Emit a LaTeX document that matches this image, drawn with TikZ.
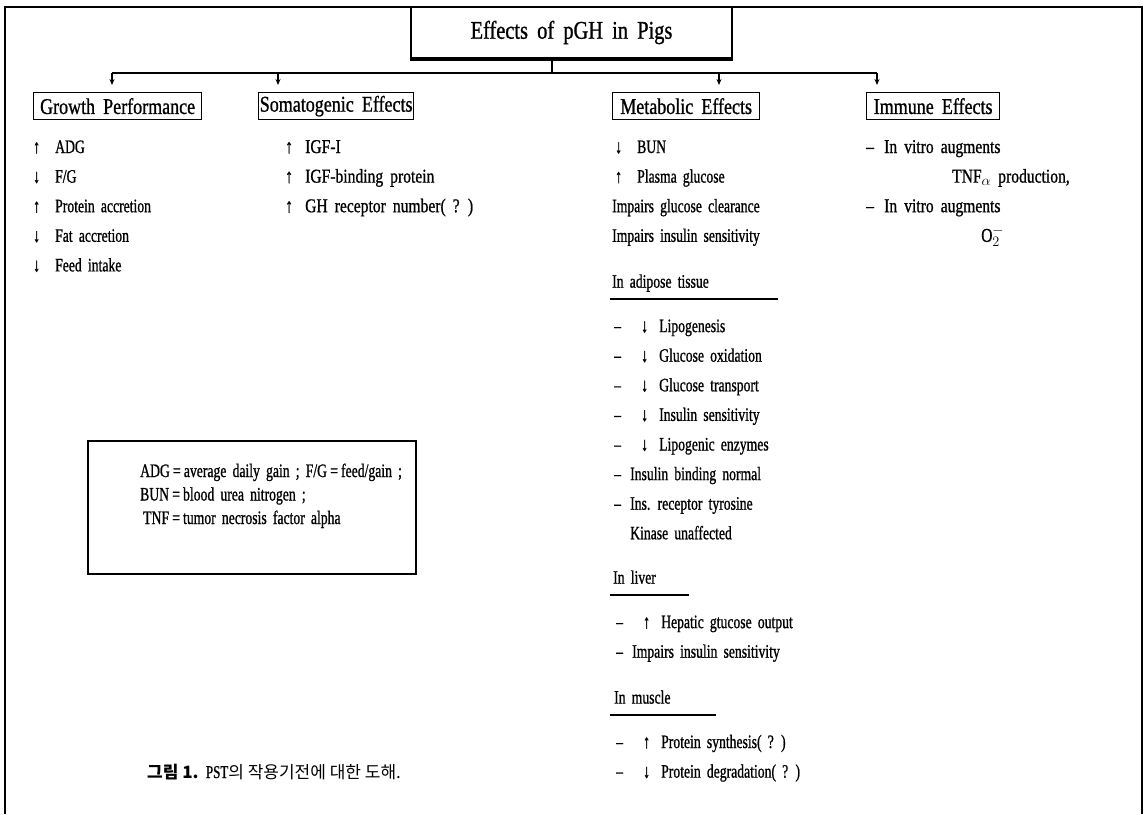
\documentclass[tikz,border=0pt]{standalone}
\usepackage{fontspec}
\setmainfont{Liberation Serif}[FakeStretch=0.72,WordSpace=1.8,FakeBold=0.9]
\newfontfamily\hfont{Liberation Serif}[FakeStretch=0.8,WordSpace=1.8,FakeBold=0.9]
\newfontfamily\kr{Noto Sans CJK KR}
\usetikzlibrary{arrows.meta}
\begin{document}
\begin{tikzpicture}[x=1pt,y=-1pt,
  every node/.style={inner sep=0pt},
  lst/.style={anchor=base west, font=\fontsize{19}{22}\selectfont},
  wlst/.style={anchor=base west, font=\hfont\fontsize{19.5}{22}\selectfont},
  abb/.style={anchor=base west, font=\fontsize{19}{22}\selectfont},
  hdr/.style={draw, line width=1.3pt, anchor=north west, minimum height=27pt,
              font=\hfont\fontsize{22.5}{26}\selectfont},
  conn/.style={line width=1.1pt},
  arr/.style={conn, -{Stealth[length=6pt,width=5pt]}, shorten >=7pt},
  uline/.style={line width=1.4pt}]
\useasboundingbox (0,0) rectangle (1147,814);
% outer frame
\draw[line width=1.6pt] (5,814) -- (5,7) -- (1142,7) -- (1142,814);
% title
\node[draw, fill=white, line width=1.2pt, minimum width=321pt, minimum height=51pt,
      font=\hfont\fontsize{25.5}{29}\selectfont] (title) at (571.5,32.5) {Effects of pGH in Pigs};
\draw[line width=3pt] ([yshift=-1.2pt]title.south west) -- ([yshift=-1.2pt]title.south east);
% headers
\node[hdr, minimum width=168pt] (gp) at (33,92) {Growth Performance};
\node[hdr, minimum width=155pt] (se) at (258,92) {Somatogenic Effects};
\node[hdr, minimum width=147pt] (me) at (612,92) {Metabolic Effects};
\node[hdr, minimum width=133pt] (ie) at (866,92) {Immune Effects};
% connectors
\coordinate (j) at (552,73);
\coordinate (a1) at (112,73);
\coordinate (a2) at (278,73);
\coordinate (a3) at (719,73);
\coordinate (a4) at (877,73);
\draw[conn] (title.south -| j) -- (j);
\draw[conn] (a1) -- (a4);
\draw[arr] (a1) -- (a1 |- gp.north);
\draw[arr] (a2) -- (a2 |- se.north);
\draw[arr] (a3) -- (a3 |- me.north);
\draw[arr] (a4) -- (a4 |- ie.north);
% growth performance list
\node[lst] (g1) at (33,153) {\makebox[22pt][l]{↑}ADG};
\node[lst] (g2) at (33,182.6) {\makebox[22pt][l]{↓}F/G};
\node[lst] (g3) at (33,212.2) {\makebox[22pt][l]{↑}Protein accretion};
\node[lst] (g4) at (33,241.8) {\makebox[22pt][l]{↓}Fat accretion};
\node[lst] (g5) at (33,271.4) {\makebox[22pt][l]{↓}Feed intake};
% somatogenic list
\node[wlst] (s1) at (285,153) {\makebox[20pt][l]{↑}IGF-I};
\node[wlst] (s2) at (285,182.6) {\makebox[20pt][l]{↑}IGF-binding protein};
\node[wlst] (s3) at (285,212.2) {\makebox[20pt][l]{↑}GH receptor number( ? )};
% metabolic list
\node[lst] (m1) at (615,153) {\makebox[22pt][l]{↓}BUN};
\node[lst] (m2) at (615,182.6) {\makebox[22pt][l]{↑}Plasma glucose};
\node[lst] (m3) at (612,212.2) {Impairs glucose clearance};
\node[lst] (m4) at (612,241.8) {Impairs insulin sensitivity};
\node[lst] (ad) at (612,287.7) {In adipose tissue};
\draw[uline] (610,299) -- (778,299);
\node[lst] (d1) at (614,332.1) {\makebox[27pt][l]{–}\makebox[18pt][l]{↓}Lipogenesis};
\node[lst] (d2) at (614,361.7) {\makebox[27pt][l]{–}\makebox[18pt][l]{↓}Glucose oxidation};
\node[lst] (d3) at (614,391.3) {\makebox[27pt][l]{–}\makebox[18pt][l]{↓}Glucose transport};
\node[lst] (d4) at (614,420.9) {\makebox[27pt][l]{–}\makebox[18pt][l]{↓}Insulin sensitivity};
\node[lst] (d5) at (614,450.5) {\makebox[27pt][l]{–}\makebox[18pt][l]{↓}Lipogenic enzymes};
\node[lst] (d6) at (614,480.1) {\makebox[16pt][l]{–}Insulin binding normal};
\node[lst] (d7) at (614,509.7) {\makebox[16pt][l]{–}Ins. receptor tyrosine};
\node[lst] (d8) at (630,539.3) {Kinase unaffected};
\node[lst] (lv) at (613,583.7) {In liver};
\draw[uline] (610,595) -- (689,595);
\node[lst] (l1) at (616,628.1) {\makebox[27pt][l]{–}\makebox[18pt][l]{↑}Hepatic gtucose output};
\node[lst] (l2) at (616,657.7) {\makebox[16pt][l]{–}Impairs insulin sensitivity};
\node[lst] (mu) at (614,703.6) {In muscle};
\draw[uline] (610,715) -- (716,715);
\node[lst] (u1) at (616,748) {\makebox[27pt][l]{–}\makebox[18pt][l]{↑}Protein synthesis( ? )};
\node[lst] (u2) at (616,777.6) {\makebox[27pt][l]{–}\makebox[18pt][l]{↓}Protein degradation( ? )};
% immune list
\node[wlst] (i1) at (866,153) {\makebox[18pt][l]{–}In vitro augments};
\node[wlst] (i2) at (952,182.6) {TNF$_\alpha$ production,};
\node[wlst] (i3) at (866,212.2) {\makebox[18pt][l]{–}In vitro augments};
\node[wlst] (i4) at (981,241.8) {O$^{-}_{2}$};
% abbreviation box
\node[draw, line width=1.5pt, anchor=north west, minimum width=328pt, minimum height=133pt] (abbr) at (87,440) {};
\node[abb] (b1) at (140,477) {ADG\,=\,average daily gain ; F/G\,=\,feed/gain ;};
\node[abb] (b2) at (140,500.5) {BUN\,=\,blood urea nitrogen ;};
\node[abb] (b3) at (143,524) {TNF\,=\,tumor necrosis factor alpha};
% caption
\node[lst] (cap) at (147,778) {{\kr\bfseries\fontsize{17}{20}\selectfont 그림 1.} {\fontsize{18}{20}\selectfont PST}{\kr\fontsize{17}{20}\selectfont 의 작용기전에 대한 도해.}};
\end{tikzpicture}
\end{document}
